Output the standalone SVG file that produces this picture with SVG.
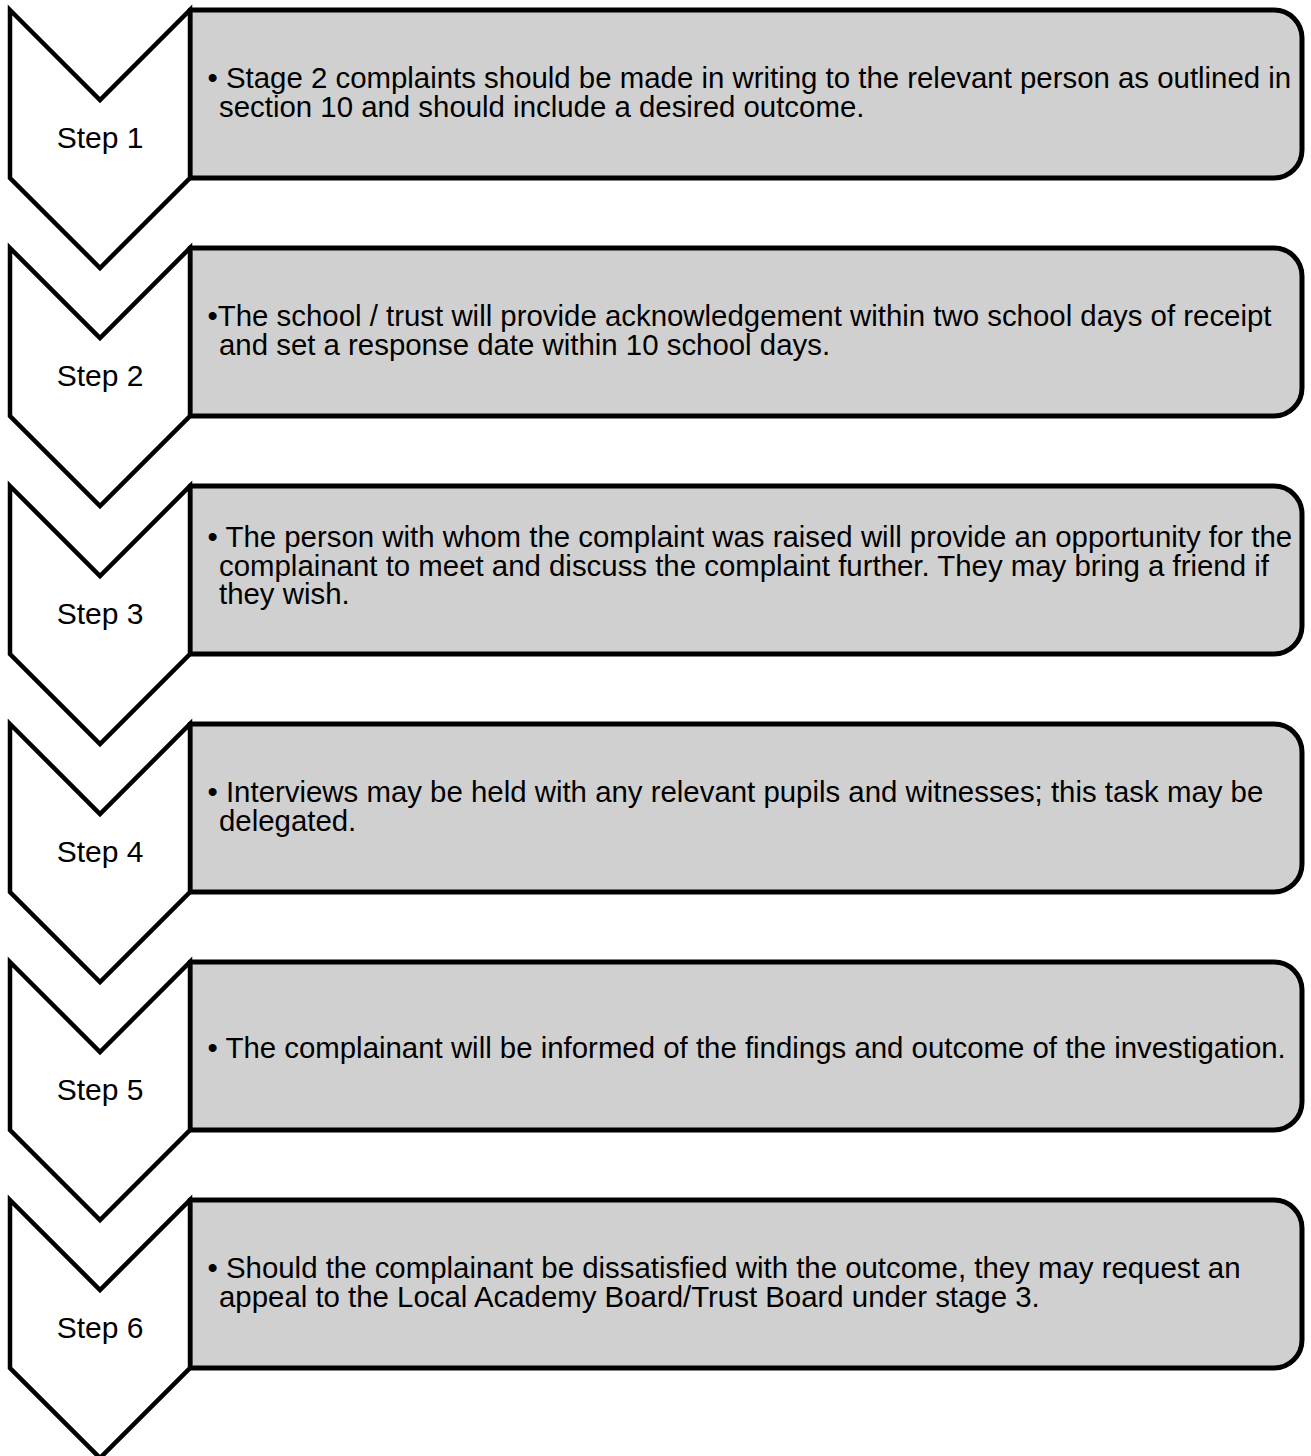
<svg xmlns="http://www.w3.org/2000/svg" width="1311" height="1456" viewBox="0 0 1311 1456">
<style>
.box{fill:#d0d0d0;stroke:#000;stroke-width:5;stroke-linejoin:round}
.chev{fill:#fff;stroke:#000;stroke-width:4.5;stroke-linejoin:miter}
.lbl{font-family:"Liberation Sans",Arial,sans-serif;font-size:30px;fill:#000;text-anchor:middle}
.txt{font-family:"Liberation Sans",Arial,sans-serif;font-size:29.4px;fill:#000}
</style>
<defs>
<path id="boxshape" d="M190,10 H1274 A28,28 0 0 1 1302,38 V150 A28,28 0 0 1 1274,178 H190 Z"/>
<polygon id="chevshape" points="10,10 100,100 190,10 190,178 100,268 10,178"/>
</defs>
<rect width="1311" height="1456" fill="#fff"/>
<g id="connectors"></g>
<g id="step1">
<use href="#boxshape" class="box"/>
<use href="#chevshape" class="chev"/>
<text class="lbl" x="100" y="148">Step 1</text>
<text class="txt" x="207.5" y="88">• Stage 2 complaints should be made in writing to the relevant person as outlined in</text>
<text class="txt" x="219" y="116.5">section 10 and should include a desired outcome.</text>
</g>
<g id="step2" transform="translate(0,238)">
<use href="#boxshape" class="box"/>
<use href="#chevshape" class="chev"/>
<text class="lbl" x="100" y="148">Step 2</text>
<text class="txt" x="207.5" y="88">•The school / trust will provide acknowledgement within two school days of receipt</text>
<text class="txt" x="219" y="116.5">and set a response date within 10 school days.</text>
</g>
<g id="step3" transform="translate(0,476)">
<use href="#boxshape" class="box"/>
<use href="#chevshape" class="chev"/>
<text class="lbl" x="100" y="148">Step 3</text>
<text class="txt" x="207.5" y="71">• The person with whom the complaint was raised will provide an opportunity for the</text>
<text class="txt" x="219" y="99.5">complainant to meet and discuss the complaint further. They may bring a friend if</text>
<text class="txt" x="219" y="128">they wish.</text>
</g>
<g id="step4" transform="translate(0,714)">
<use href="#boxshape" class="box"/>
<use href="#chevshape" class="chev"/>
<text class="lbl" x="100" y="148">Step 4</text>
<text class="txt" x="207.5" y="88">• Interviews may be held with any relevant pupils and witnesses; this task may be</text>
<text class="txt" x="219" y="116.5">delegated.</text>
</g>
<g id="step5" transform="translate(0,952)">
<use href="#boxshape" class="box"/>
<use href="#chevshape" class="chev"/>
<text class="lbl" x="100" y="148">Step 5</text>
<text class="txt" x="207.5" y="106">• The complainant will be informed of the findings and outcome of the investigation.</text>
</g>
<g id="step6" transform="translate(0,1190)">
<use href="#boxshape" class="box"/>
<use href="#chevshape" class="chev"/>
<text class="lbl" x="100" y="148">Step 6</text>
<text class="txt" x="207.5" y="88">• Should the complainant be dissatisfied with the outcome, they may request an</text>
<text class="txt" x="219" y="116.5">appeal to the Local Academy Board/Trust Board under stage 3.</text>
</g>
</svg>
